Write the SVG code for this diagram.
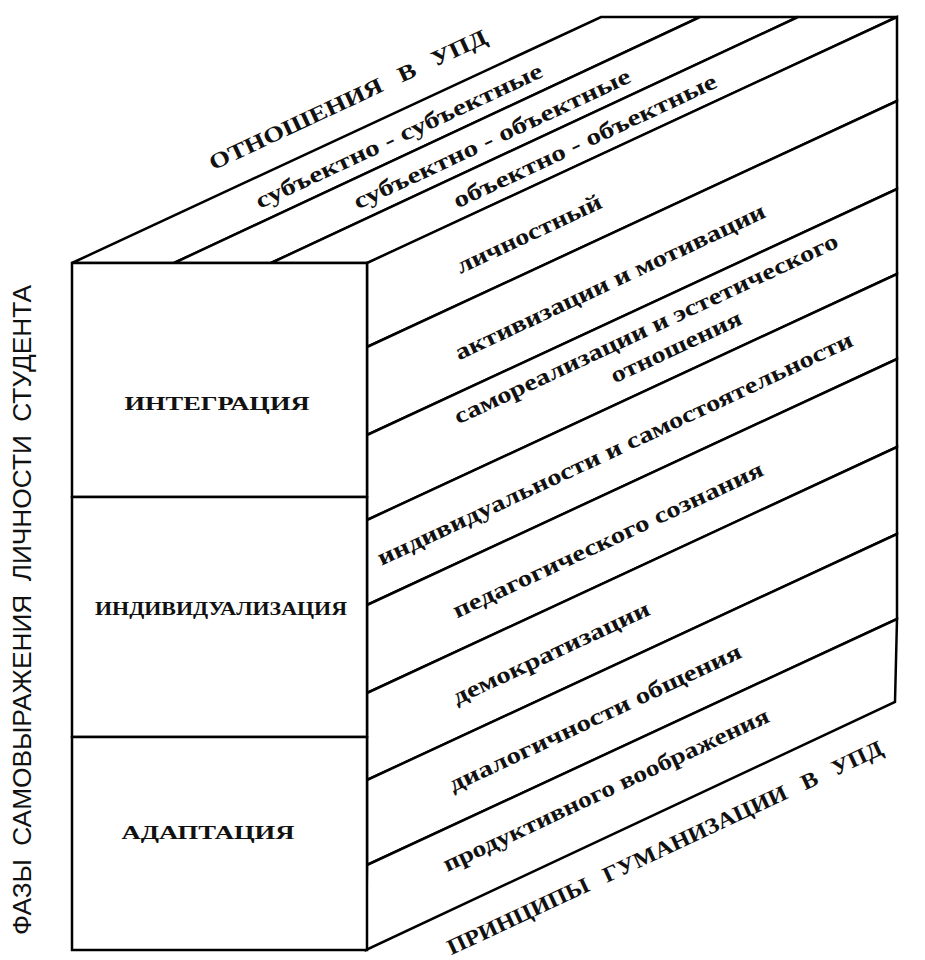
<svg xmlns="http://www.w3.org/2000/svg" width="925" height="960" viewBox="0 0 925 960">
<style>
.f{fill:#fff;stroke:#000;stroke-width:2.5;stroke-linejoin:miter}
.t{font-family:"Liberation Serif","Times New Roman",serif;font-weight:bold;fill:#111;text-anchor:middle}
.s{font-size:23px}
.c{font-size:19px}
.h{font-size:22px;word-spacing:10px}
.v{font-family:"Liberation Sans",Arial,sans-serif;font-size:26px;text-anchor:middle;fill:#111;word-spacing:6px}
</style>
<rect width="925" height="960" fill="#fff"/>

<g id="axis-labels">
  <text class="t h" transform="translate(348,100) rotate(-25)" y="7" textLength="304" lengthAdjust="spacingAndGlyphs">ОТНОШЕНИЯ В УПД</text>
  <text class="t h" transform="translate(665,848) rotate(-25)" y="7" textLength="478" lengthAdjust="spacingAndGlyphs">ПРИНЦИПЫ ГУМАНИЗАЦИИ В УПД</text>
  <text class="v" transform="translate(22,610) rotate(-90)" y="9" textLength="650" lengthAdjust="spacingAndGlyphs">ФАЗЫ САМОВЫРАЖЕНИЯ ЛИЧНОСТИ СТУДЕНТА</text>
</g>

<g id="top-face">
  <g id="top-1">
    <polygon class="f" points="72,263 174,263 700,17 601,17"/>
    <text class="t s" transform="translate(400,138) rotate(-25)" y="5" textLength="314" lengthAdjust="spacingAndGlyphs">субъектно - субъектные</text>
  </g>
  <g id="top-2">
    <polygon class="f" points="174,263 271,263 798,17 700,17"/>
    <text class="t s" transform="translate(493,141) rotate(-25)" y="5" textLength="303" lengthAdjust="spacingAndGlyphs">субъектно - объектные</text>
  </g>
  <g id="top-3">
    <polygon class="f" points="271,263 368,263 897,17 798,17"/>
    <text class="t s" transform="translate(586,143) rotate(-25)" y="5" textLength="288" lengthAdjust="spacingAndGlyphs">объектно - объектные</text>
  </g>
</g>

<g id="right-face">
  <g id="right-1">
    <polygon class="f" points="367,263 897,17 897,101 367,347"/>
    <text class="t s" transform="translate(530,236) rotate(-25)" y="5" textLength="158" lengthAdjust="spacingAndGlyphs">личностный</text>
  </g>
  <g id="right-2">
    <polygon class="f" points="367,347 897,101 897,189 367,435"/>
    <text class="t s" transform="translate(611,284) rotate(-25)" y="5" textLength="340" lengthAdjust="spacingAndGlyphs">активизации и мотивации</text>
  </g>
  <g id="right-3">
    <polygon class="f" points="367,435 897,189 897,274 367,520"/>
    <text class="t s" transform="translate(647,331) rotate(-25)" y="5" textLength="421" lengthAdjust="spacingAndGlyphs">самореализации и эстетического</text>
    <text class="t s" transform="translate(677,349) rotate(-25)" y="5" textLength="142" lengthAdjust="spacingAndGlyphs">отношения</text>
  </g>
  <g id="right-4">
    <polygon class="f" points="367,520 897,274 897,359 367,605"/>
    <text class="t s" transform="translate(616,451) rotate(-25)" y="5" textLength="522" lengthAdjust="spacingAndGlyphs">индивидуальности и самостоятельности</text>
  </g>
  <g id="right-5">
    <polygon class="f" points="367,605 897,359 897,447 367,693"/>
    <text class="t s" transform="translate(609,542) rotate(-25)" y="5" textLength="340" lengthAdjust="spacingAndGlyphs">педагогического сознания</text>
  </g>
  <g id="right-6">
    <polygon class="f" points="367,693 897,447 897,534 367,780"/>
    <text class="t s" transform="translate(552,655) rotate(-25)" y="5" textLength="215" lengthAdjust="spacingAndGlyphs">демократизации</text>
  </g>
  <g id="right-7">
    <polygon class="f" points="367,780 897,534 897,619 367,865"/>
    <text class="t s" transform="translate(596,720) rotate(-25)" y="5" textLength="320" lengthAdjust="spacingAndGlyphs">диалогичности общения</text>
  </g>
  <g id="right-8">
    <polygon class="f" points="367,865 897,619 895,702 366,950"/>
    <text class="t s" transform="translate(607,792) rotate(-25)" y="5" textLength="357" lengthAdjust="spacingAndGlyphs">продуктивного воображения</text>
  </g>
</g>

<g id="front-face">
  <g id="phase-integration">
    <rect class="f" x="72" y="263" width="295" height="234"/>
    <text class="t c" x="217" y="410" textLength="185" lengthAdjust="spacingAndGlyphs">ИНТЕГРАЦИЯ</text>
  </g>
  <g id="phase-individualization">
    <rect class="f" x="72" y="497" width="295" height="240"/>
    <text class="t c" x="221" y="615" textLength="252" lengthAdjust="spacingAndGlyphs">ИНДИВИДУАЛИЗАЦИЯ</text>
  </g>
  <g id="phase-adaptation">
    <rect class="f" x="72" y="737" width="295" height="213"/>
    <text class="t c" x="208" y="839" textLength="173" lengthAdjust="spacingAndGlyphs">АДАПТАЦИЯ</text>
  </g>
</g>

<g id="connectors"></g>
</svg>
